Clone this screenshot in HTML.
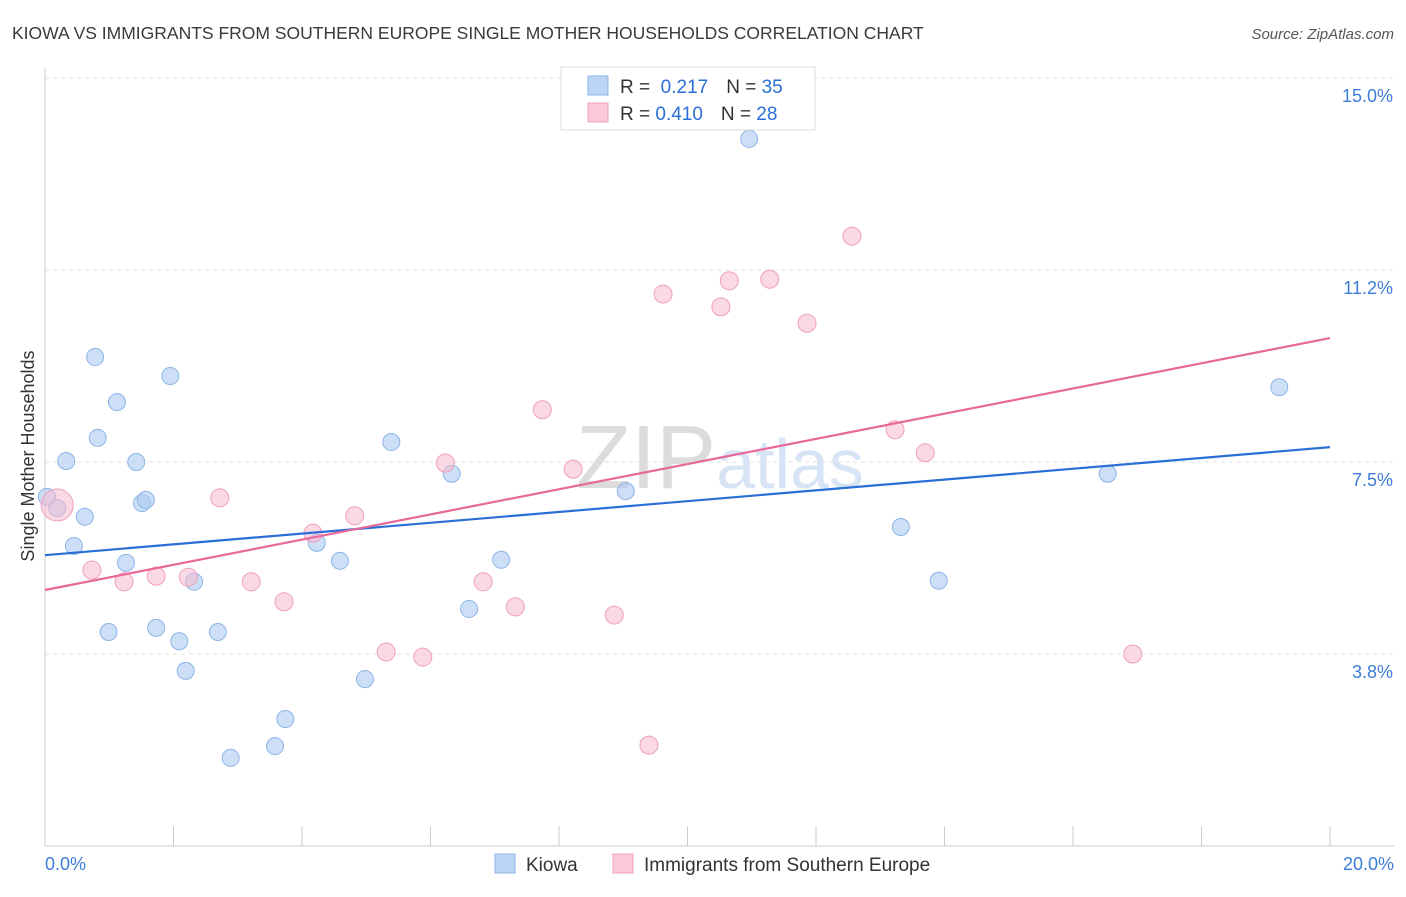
<!DOCTYPE html>
<html><head><meta charset="utf-8"><style>
body{margin:0;background:#fff;font-family:"Liberation Sans",sans-serif;}
svg text{font-family:"Liberation Sans",sans-serif;}
</style></head><body>
<svg id="chart" width="1406" height="892" viewBox="0 0 1406 892" xmlns="http://www.w3.org/2000/svg">
<text x="12" y="39" font-size="17.5" fill="#3a3a3a">KIOWA VS IMMIGRANTS FROM SOUTHERN EUROPE SINGLE MOTHER HOUSEHOLDS CORRELATION CHART</text>
<text x="1394" y="39" font-size="15" fill="#555" font-style="italic" text-anchor="end">Source: ZipAtlas.com</text>
<g id="grid"></g>
<g id="axes"></g>
<text x="720" y="488" font-size="90" text-anchor="middle" fill="#e4e4e4" font-family="Liberation Serif"><tspan fill="#dcdcdc">ZIP</tspan><tspan fill="#d6e4f5" font-family="Liberation Sans" font-size="70">atlas</tspan></text>
<g id="pts"></g>
<g id="lines"></g>
<text transform="translate(34,456) rotate(-90)" font-size="18" fill="#333" text-anchor="middle">Single Mother Households</text>
<g>
<rect x="561" y="67" width="254" height="63" fill="#fff" stroke="#ddd"/>
<rect x="588" y="76" width="20" height="19" fill="#bcd5f5" stroke="#8db4e8"/>
<rect x="588" y="103" width="20" height="19" fill="#f9c9d8" stroke="#eea0bb"/>
<text x="620" y="93" font-size="19" fill="#333">R = <tspan fill="#2a6fd6">&#160;0.217</tspan><tspan dx="18" fill="#333">N = </tspan><tspan fill="#2a6fd6">35</tspan></text>
<text x="620" y="120" font-size="19" fill="#333">R = <tspan fill="#2a6fd6">0.410</tspan><tspan dx="18" fill="#333">N = </tspan><tspan fill="#2a6fd6">28</tspan></text>
</g>
<g>
<rect x="495" y="854" width="20" height="19" fill="#bcd5f5" stroke="#8db4e8"/>
<text x="526" y="871" font-size="19" fill="#333">Kiowa</text>
<rect x="613" y="854" width="20" height="19" fill="#f9c9d8" stroke="#eea0bb"/>
<text x="644" y="871" font-size="19" fill="#333">Immigrants from Southern Europe</text>
</g>
</svg>
<script>
const kiowaX=[0.03,0.19,0.33,0.45,0.62,0.78,0.82,0.99,1.12,1.26,1.42,1.51,1.57,1.73,1.95,2.09,2.19,2.32,2.69,2.89,3.58,3.74,4.23,4.59,4.98,5.39,6.33,6.60,7.10,9.04,10.96,13.32,13.91,16.54,19.21];
const kiowaY=[6.82,6.60,7.52,5.86,6.43,9.55,7.97,4.18,8.67,5.53,7.50,6.70,6.76,4.26,9.18,4.00,3.42,5.16,4.18,1.72,1.95,2.48,5.92,5.57,3.26,7.89,7.27,4.63,5.59,6.93,13.81,6.23,5.18,7.27,8.96];
const immX=[0.19,0.73,1.23,1.73,2.23,2.72,3.21,3.72,4.17,4.82,5.31,5.88,6.23,6.82,7.32,7.74,8.22,8.86,9.40,9.62,10.52,10.65,11.28,11.86,12.56,13.23,13.70,16.93];
const immY=[6.66,5.39,5.16,5.27,5.25,6.80,5.16,4.77,6.11,6.45,3.79,3.69,7.48,5.16,4.67,8.52,7.36,4.51,1.97,10.78,10.53,11.04,11.07,10.21,11.91,8.13,7.68,3.75];
const immR=[16,9,9,9,9,9,9,9,9,9,9,9,9,9,9,9,9,9,9,9,9,9,9,9,9,9,9,9];
const kiowaTrend=[5.68,7.79];
const immTrend=[5.0,9.92];
const yTicks=[3.75,7.5,11.25,15];
const yTickLabels=["3.8%","7.5%","11.2%","15.0%"];
const xTicks=[0,2,4,6,8,10,12,14,16,18,20];
const NS="http://www.w3.org/2000/svg";
const sx=v=>45+v*64.25, sy=v=>846-v*51.2;
function mk(tag,attrs,parent){const e=document.createElementNS(NS,tag);for(const k in attrs)e.setAttribute(k,attrs[k]);document.getElementById(parent).appendChild(e);return e;}
yTicks.forEach((t,i)=>{
  const l=mk('line',{x1:45,x2:1394,y1:sy(t),y2:sy(t),stroke:'#e2e2e2','stroke-dasharray':'4,4'},'grid');
  
  
  const tx=mk('text',{x:1393,y:sy(t)+24,'font-size':18,fill:'#3d7dd8','text-anchor':'end'},'grid');
  tx.textContent=yTickLabels[i];
  
  
});
const la=mk('line',{x1:45,x2:45,y1:68,y2:846,stroke:'#ccc'},'axes');


const lb=mk('line',{x1:45,x2:1394,y1:846,y2:846,stroke:'#ccc'},'axes');


xTicks.forEach(t=>{
  const l=mk('line',{x1:sx(t),x2:sx(t),y1:826,y2:846,stroke:'#ccc'},'axes');
  
  
});
[[0,'0.0%','start',45],[20,'20.0%','end',1394]].forEach(a=>{
  const tx=mk('text',{x:a[3],y:870,'font-size':18,fill:'#3d7dd8','text-anchor':a[2]},'axes');
  tx.textContent=a[1];
  
  
});
kiowaX.forEach((x,i)=>{
  const c=mk('circle',{cx:sx(x),cy:sy(kiowaY[i]),r:8.5,fill:'rgba(170,202,242,0.6)',stroke:'#8db4e8','stroke-width':1},'pts');
  
  
});
immX.forEach((x,i)=>{
  const c=mk('circle',{cx:sx(x),cy:sy(immY[i]),r:immR[i],fill:'rgba(247,185,206,0.55)',stroke:'#eea0bb','stroke-width':1},'pts');
  
  
});
const t1=mk('line',{x1:sx(0),y1:sy(kiowaTrend[0]),x2:sx(20),y2:sy(kiowaTrend[1]),stroke:'#2a6fd6','stroke-width':2.2},'lines');


const t2=mk('line',{x1:sx(0),y1:sy(immTrend[0]),x2:sx(20),y2:sy(immTrend[1]),stroke:'#e8689a','stroke-width':2.2},'lines');


</script>
</body></html>
